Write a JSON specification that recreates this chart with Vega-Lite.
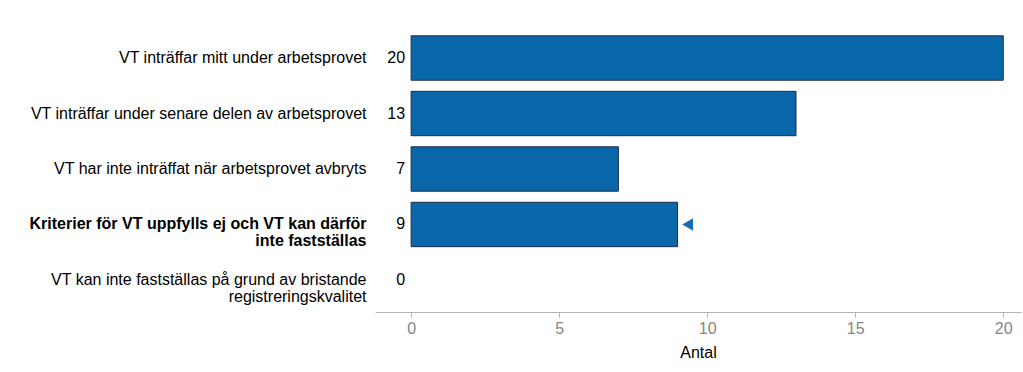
{
  "$schema": "https://vega.github.io/schema/vega-lite/v6.json",
  "width": 646,
  "height": 286,
  "autosize": {"type": "none"},
  "padding": {"left": 375, "top": 26, "right": 2, "bottom": 60},
  "background": "white",
  "config": {"view": {"stroke": null}, "font": "Liberation Sans"},
  "data": {
    "values": [
      {"category": "VT inträffar mitt under arbetsprovet", "value": 20, "highlight": false},
      {"category": "VT inträffar under senare delen av arbetsprovet", "value": 13, "highlight": false},
      {"category": "VT har inte inträffat när arbetsprovet avbryts", "value": 7, "highlight": false},
      {"category": "Kriterier för VT uppfylls ej och VT kan därför \ninte fastställas", "value": 9, "highlight": true},
      {"category": "VT kan inte fastställas på grund av bristande \nregistreringskvalitet", "value": 0, "highlight": false}
    ]
  },
  "encoding": {
    "y": {
      "field": "category",
      "type": "nominal",
      "sort": null,
      "scale": {"paddingInner": 0.2, "paddingOuter": 0.177},
      "axis": {
        "title": null,
        "domain": false,
        "ticks": false,
        "labelPadding": 9,
        "labelFontSize": 16,
        "labelColor": "#000000",
        "labelLimit": 400,
        "labelLineHeight": 17,
        "labelExpr": "split(datum.label, '\\n')",
        "labelFontWeight": {"condition": {"test": "indexof(datum.value, 'Kriterier') >= 0", "value": "bold"}, "value": "normal"}
      }
    }
  },
  "layer": [
    {
      "mark": {"type": "bar", "fill": "#0a67aa", "stroke": "#1b2b45", "strokeWidth": 1},
      "encoding": {
        "x": {
          "field": "value",
          "type": "quantitative",
          "scale": {"domain": [-1.22, 20.6], "nice": false, "zero": false},
          "axis": {
            "title": "Antal",
            "titleFontSize": 16,
            "titleFontWeight": "normal",
            "titleColor": "#000000",
            "titlePadding": 8,
            "values": [0, 5, 10, 15, 20],
            "grid": false,
            "domainColor": "#b4b4b4",
            "tickColor": "#b4b4b4",
            "tickSize": 5,
            "labelFontSize": 16,
            "labelColor": "#858585",
            "labelPadding": 3
          }
        },
        "x2": {"datum": 0},
        "strokeOpacity": {"condition": {"test": "datum.value == 0", "value": 0}, "value": 1}
      }
    },
    {
      "mark": {"type": "text", "align": "right", "baseline": "middle", "dx": -6, "fontSize": 16, "color": "#000000"},
      "encoding": {
        "x": {"datum": 0},
        "text": {"field": "value", "type": "quantitative"},
        "fontWeight": {"condition": {"test": "datum.highlight", "value": "bold"}, "value": "normal"}
      }
    },
    {
      "transform": [{"filter": "datum.highlight"}],
      "mark": {"type": "point", "shape": "triangle-left", "filled": true, "color": "#1a6db0", "size": 160, "xOffset": 10, "opacity": 1},
      "encoding": {
        "x": {"field": "value", "type": "quantitative"}
      }
    }
  ]
}
